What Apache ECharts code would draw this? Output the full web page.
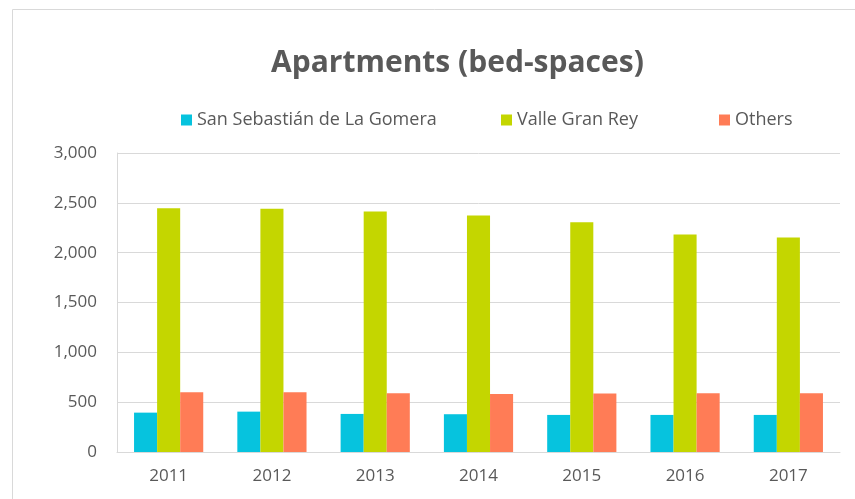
<!DOCTYPE html>
<html>
<head>
    <meta charset="utf-8"/>
    <script src="https://cdn.jsdelivr.net/npm/echarts@6/dist/echarts.min.js"></script>
    <style>
        html, body { margin: 0; padding: 0; background: #fff; }
    </style>
</head>
<body>
<div id="main" style="width: 855px;height:499px;"></div>
<script type="text/javascript">
    var years = ['2011', '2012', '2013', '2014', '2015', '2016', '2017'];
    var sanSebastian = [395, 405, 382, 379, 372, 372, 372];
    var valleGranRey = [2445, 2440, 2414, 2374, 2304, 2183, 2153];
    var others = [600, 600, 590, 583, 587, 590, 590];
    var seriesNames = ['San Sebastián de La Gomera', 'Valle Gran Rey', 'Others'];
    var colors = ['#06c3de', '#c4d600', '#ff7c56'];

    var font = '"Open Sans", sans-serif';
    var myChart = echarts.init(document.getElementById('main'));

    // one legend per item so each sits where the reference puts it
    var legendLefts = [176, 496, 714];
    var legends = seriesNames.map(function (n, i) {
        return {
            data: [n],
            left: legendLefts[i],
            top: 106,
            itemWidth: 11,
            itemHeight: 11,
            icon: 'rect',
            textStyle: {color: '#595959', fontSize: 18, fontFamily: font}
        };
    });

    var option = {
        animation: false,
        color: colors,
        title: {
            text: 'Apartments (bed-spaces)',
            left: 266,
            top: 43,
            textStyle: {color: '#595959', fontSize: 30, fontWeight: 'bold', fontFamily: font}
        },
        legend: legends,
        graphic: [{
            type: 'rect',
            shape: {x: 12.5, y: 9.5, width: 860, height: 520},
            style: {fill: 'none', stroke: '#d9d9d9', lineWidth: 1},
            silent: true
        }],
        grid: {left: 117, right: 15, top: 153, bottom: 47},
        xAxis: {
            type: 'category',
            data: years,
            axisLine: {lineStyle: {color: '#d9d9d9', width: 1}},
            axisTick: {show: false},
            axisLabel: {color: '#595959', fontSize: 17, fontFamily: font, margin: 16}
        },
        yAxis: {
            type: 'value',
            min: 0,
            max: 3000,
            interval: 500,
            axisLine: {show: true, lineStyle: {color: '#d9d9d9'}},
            splitLine: {lineStyle: {color: '#d9d9d9'}},
            axisLabel: {
                color: '#595959', fontSize: 17, fontFamily: font, margin: 20,
                formatter: function (v) { return v.toLocaleString('en-US'); }
            }
        },
        series: [
            {name: seriesNames[0], type: 'bar', data: sanSebastian, barGap: '0%', barCategoryGap: '33%'},
            {name: seriesNames[1], type: 'bar', data: valleGranRey, barGap: '0%', barCategoryGap: '33%'},
            {name: seriesNames[2], type: 'bar', data: others, barGap: '0%', barCategoryGap: '33%'}
        ]
    };

    myChart.setOption(option);
</script>
</body>
</html>
